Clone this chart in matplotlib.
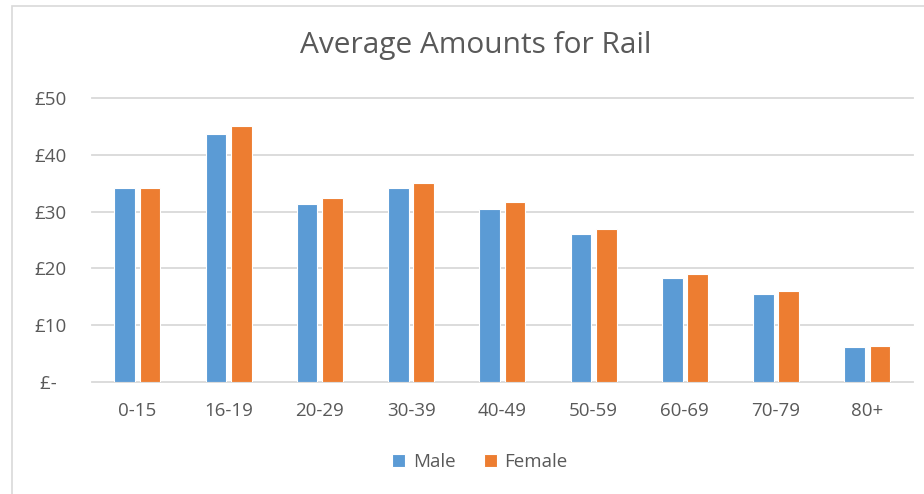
import numpy as np
import matplotlib
matplotlib.use("Agg")
import matplotlib.pyplot as plt
from matplotlib.patches import Rectangle

plt.rcParams["font.family"] = ["Open Sans", "DejaVu Sans"]

# data
age_groups = ["0-15", "16-19", "20-29", "30-39", "40-49", "50-59", "60-69", "70-79", "80+"]
male = [34.1, 43.6, 31.4, 34.1, 30.4, 26.0, 18.3, 15.6, 6.2]
female = [34.1, 45.0, 32.3, 35.0, 31.6, 27.0, 19.0, 16.0, 6.3]
y_ticks = [0, 10, 20, 30, 40, 50]
y_labels = ["£-  ", "£10", "£20", "£30", "£40", "£50"]

BLUE = "#5B9BD5"
ORANGE = "#ED7D31"
TEXT = "#595959"
GRID = "#D9D9D9"

fig = plt.figure(figsize=(9.24, 4.94), dpi=100)
ax = fig.add_axes([0.0992, 0.2261, 0.8889, 0.5761])

# chart area border (left and top visible in the crop)
fig.patches.append(Rectangle((12 / 924, -0.1), 1.0, 1 - 6 / 494 + 0.1,
                             transform=fig.transFigure, fill=False,
                             edgecolor=GRID, linewidth=1.2))

x = np.arange(len(age_groups))
width = 0.227
offset = 0.139

ax.bar(x - offset, male, width, color=BLUE, edgecolor="white", linewidth=0.8,
       label="Male", zorder=3)
ax.bar(x + offset, female, width, color=ORANGE, edgecolor="white", linewidth=0.8,
       label="Female", zorder=3)

ax.set_xlim(-0.5, len(age_groups) - 0.5)
ax.set_ylim(0, 50)
ax.set_xticks(x)
ax.set_xticklabels(age_groups)
ax.set_yticks(y_ticks)
ax.set_yticklabels(y_labels)

for s in ax.spines.values():
    s.set_visible(False)

for t in y_ticks:
    ax.axhline(t, color=GRID, linewidth=1.3, zorder=1, clip_on=False)

ax.tick_params(axis="both", length=0, labelsize=13.5, labelcolor=TEXT)
ax.tick_params(axis="y", pad=18)
ax.tick_params(axis="x", pad=14)

fig.text(475.5 / 924, 1 - 45 / 494, "Average Amounts for Rail", ha="center",
         va="center", fontsize=21.5, color=TEXT)

ax.legend(loc="center", bbox_to_anchor=(480 / 924, 1 - 462 / 494),
          bbox_transform=fig.transFigure, ncol=2, frameon=False,
          fontsize=13.5, labelcolor=TEXT, handlelength=0.7, handleheight=0.7,
          handletextpad=0.4, columnspacing=1.5)

fig.savefig("out.png", dpi=100)
